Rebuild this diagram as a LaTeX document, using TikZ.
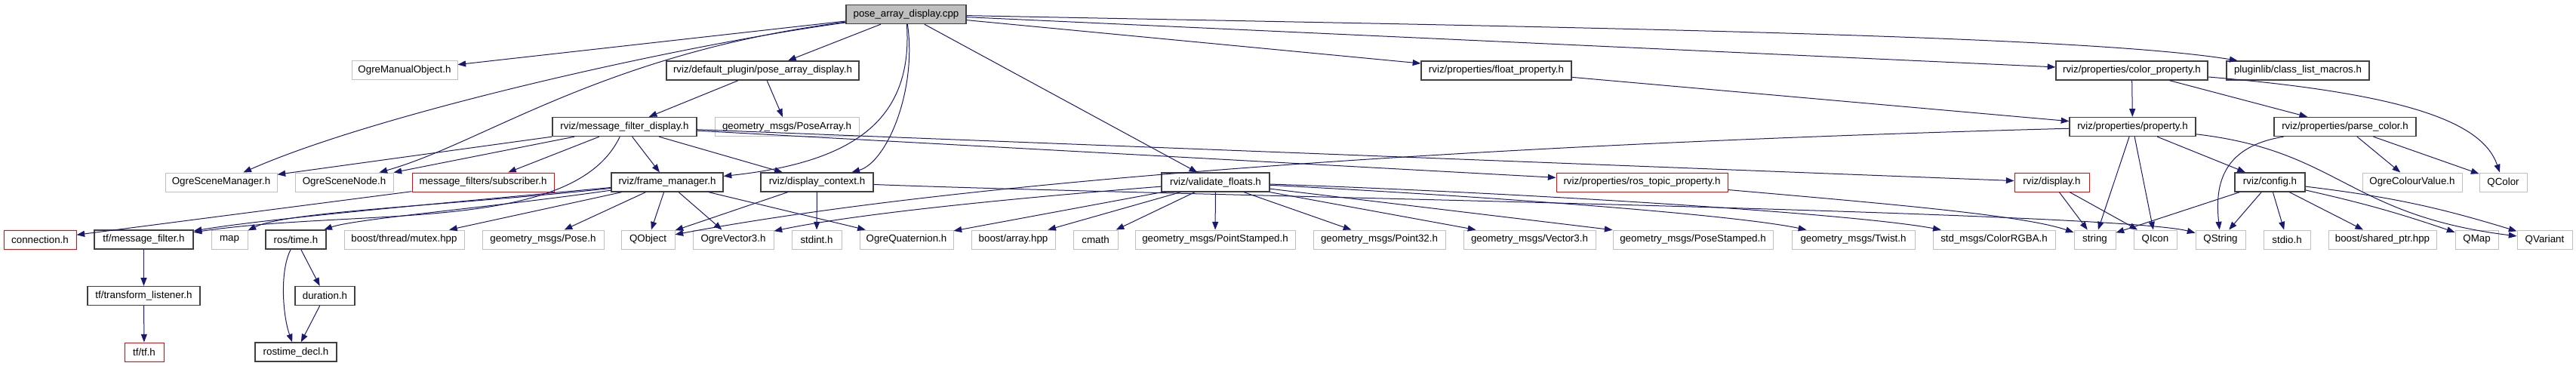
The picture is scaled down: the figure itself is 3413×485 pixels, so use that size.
\documentclass[tikz,border=0pt]{standalone}
\usepackage{fontspec}
\setmainfont{Liberation Sans}
\usetikzlibrary{arrows.meta}
\definecolor{edgec}{HTML}{191970}
\definecolor{grayb}{HTML}{BFBFBF}
\definecolor{redb}{HTML}{FF0000}
\definecolor{rootf}{HTML}{BFBFBF}
\definecolor{darkb}{HTML}{404040}
\tikzset{
  box/.style={rectangle, inner sep=0pt, minimum height=18.75pt, font=\fontsize{10}{12}\selectfont, line width=0.75pt, fill=white},
  intern/.style={box, draw=darkb, line width=1pt},
  extern/.style={box, draw=grayb},
  trunc/.style={box, draw=redb},
  root/.style={box, draw=darkb, fill=rootf, line width=1pt},
  dep/.style={draw=edgec, line width=0.75pt, -{Triangle[length=8pt,width=6pt]}}
}
\newcommand\mknode[6]{\node[#5, minimum width={(#3-#2)*0.75pt}] (#1) at ({(#2+#3)/2},#4) {#6};}
\begin{document}
\begin{tikzpicture}[x=0.75pt,y=-0.75pt]
\useasboundingbox (0,0) rectangle (3413,485);
% row 1
\mknode{cpp}{1121}{1280}{19}{root}{pose\_array\_display.cpp}
% row 2
\mknode{ogremo}{466}{606}{93.5}{extern}{OgreManualObject.h}
\mknode{padh}{883}{1138}{93.5}{intern}{rviz/default\_plugin/pose\_array\_display.h}
\mknode{floatp}{1883}{2082}{93.5}{intern}{rviz/properties/float\_property.h}
\mknode{colorp}{2724}{2925}{93.5}{intern}{rviz/properties/color\_property.h}
\mknode{plugin}{2950}{3139}{93.5}{intern}{pluginlib/class\_list\_macros.h}
% row 3
\mknode{mfd}{732}{923}{168}{intern}{rviz/message\_filter\_display.h}
\mknode{posearr}{947}{1138}{168}{extern}{geometry\_msgs/PoseArray.h}
\mknode{prop}{2742}{2909}{168}{intern}{rviz/properties/property.h}
\mknode{parsec}{3013}{3201}{168}{intern}{rviz/properties/parse\_color.h}
% row 4
\mknode{osm}{219}{367}{241.5}{extern}{OgreSceneManager.h}
\mknode{osn}{391}{521}{241.5}{extern}{OgreSceneNode.h}
\mknode{mfsub}{546}{734}{241.5}{trunc}{message\_filters/subscriber.h}
\mknode{fm}{810}{958}{241.5}{intern}{rviz/frame\_manager.h}
\mknode{dc}{1008}{1157}{241.5}{intern}{rviz/display\_context.h}
\mknode{vf}{1539}{1682}{241.5}{intern}{rviz/validate\_floats.h}
\mknode{rtp}{2062}{2289}{241.5}{trunc}{rviz/properties/ros\_topic\_property.h}
\mknode{disp}{2669}{2768}{241.5}{trunc}{rviz/display.h}
\mknode{config}{2961}{3054}{241.5}{intern}{rviz/config.h}
\mknode{ocv}{3130}{3262}{241.5}{extern}{OgreColourValue.h}
\mknode{qcolor}{3285}{3348}{241.5}{extern}{QColor}
% row 5
\mknode{conn}{5}{101}{317.5}{trunc}{connection.h}
\mknode{tfmf}{125}{256}{317.5}{intern}{tf/message\_filter.h}
\mknode{map}{280}{328}{317.5}{extern}{map}
\mknode{rostime}{352}{432}{317.5}{intern}{ros/time.h}
\mknode{mutex}{456}{615}{317.5}{extern}{boost/thread/mutex.hpp}
\mknode{pose}{639}{800}{317.5}{extern}{geometry\_msgs/Pose.h}
\mknode{qobject}{823}{894}{317.5}{extern}{QObject}
\mknode{ov3}{918}{1025}{317.5}{extern}{OgreVector3.h}
\mknode{stdint}{1049}{1115}{317.5}{extern}{stdint.h}
\mknode{oquat}{1139}{1263}{317.5}{extern}{OgreQuaternion.h}
\mknode{barray}{1287}{1398}{317.5}{extern}{boost/array.hpp}
\mknode{cmath}{1422}{1481}{317.5}{extern}{cmath}
\mknode{pstamped}{1504}{1716}{317.5}{extern}{geometry\_msgs/PointStamped.h}
\mknode{p32}{1740}{1915}{317.5}{extern}{geometry\_msgs/Point32.h}
\mknode{v3}{1939}{2114}{317.5}{extern}{geometry\_msgs/Vector3.h}
\mknode{posest}{2137}{2349}{317.5}{extern}{geometry\_msgs/PoseStamped.h}
\mknode{twist}{2374}{2537}{317.5}{extern}{geometry\_msgs/Twist.h}
\mknode{rgba}{2561}{2723}{317.5}{extern}{std\_msgs/ColorRGBA.h}
\mknode{string}{2748}{2803}{317.5}{extern}{string}
\mknode{qicon}{2827}{2884}{317.5}{extern}{QIcon}
\mknode{qstring}{2909}{2975}{317.5}{extern}{QString}
\mknode{stdio}{2999}{3061}{317.5}{extern}{stdio.h}
\mknode{bshared}{3085}{3228}{317.5}{extern}{boost/shared\_ptr.hpp}
\mknode{qmap}{3253}{3310}{317.5}{extern}{QMap}
\mknode{qvariant}{3335}{3408}{317.5}{extern}{QVariant}
% row 6
\mknode{tftl}{116}{265}{392}{intern}{tf/transform\_listener.h}
\mknode{duration}{391}{470}{392}{intern}{duration.h}
% row 7
\mknode{tftf}{165}{217}{466.5}{trunc}{tf/tf.h}
\mknode{rtdecl}{338}{446}{466.5}{intern}{rostime\_decl.h}

% edges from pose_array_display.cpp
\draw[dep] (cpp) -- (ogremo);
\draw[dep] (cpp) .. controls (900,60) and (500,150) .. (osm);
\draw[dep] (cpp) .. controls (800,70) and (640,190) .. (osn);
\draw[dep] (cpp) -- (padh);
\draw[dep] (cpp) .. controls (1210,160) and (1130,215) .. (fm);
\draw[dep] (cpp) .. controls (1215,120) and (1175,215) .. (dc);
\draw[dep] (cpp) -- (vf);
\draw[dep] (cpp) -- (floatp);
\draw[dep] (cpp) -- (colorp);
\draw[dep] (cpp) .. controls (2000,35) and (2750,45) .. (plugin);
% pose_array_display.h
\draw[dep] (padh) -- (mfd);
\draw[dep] (padh) -- (posearr);
% message_filter_display.h
\draw[dep] (mfd) -- (osm);
\draw[dep] (mfd) -- (osn);
\draw[dep] (mfd) -- (mfsub);
\draw[dep] (mfd) -- (fm);
\draw[dep] (mfd) -- (dc);
\draw[dep] (mfd) .. controls (760,310) and (480,275) .. (tfmf);
\draw[dep] (mfd) -- (rtp);
\draw[dep] (mfd) -- (disp);
% frame_manager.h
\draw[dep] (fm) .. controls (600,268) and (350,290) .. (tfmf);
\draw[dep] (fm) .. controls (600,272) and (380,280) .. (map);
\draw[dep] (fm) .. controls (650,275) and (470,290) .. (rostime);
\draw[dep] (fm) -- (mutex);
\draw[dep] (fm) -- (pose);
\draw[dep] (fm) -- (qobject);
\draw[dep] (fm) -- (ov3);
\draw[dep] (fm) -- (oquat);
% display_context.h
\draw[dep] (dc) -- (qobject);
\draw[dep] (dc) -- (stdint);
\draw[dep] (dc) .. controls (1500,258) and (2800,280) .. (qstring);
% validate_floats.h
\draw[dep] (vf) .. controls (1400,258) and (1150,280) .. (ov3);
\draw[dep] (vf) -- (oquat);
\draw[dep] (vf) -- (barray);
\draw[dep] (vf) -- (cmath);
\draw[dep] (vf) -- (pstamped);
\draw[dep] (vf) -- (p32);
\draw[dep] (vf) -- (v3);
\draw[dep] (vf) -- (posest);
\draw[dep] (vf) .. controls (2000,262) and (2300,285) .. (twist);
\draw[dep] (vf) .. controls (2000,255) and (2450,282) .. (rgba);
% float_property.h
\draw[dep] (floatp) -- (prop);
% color_property.h
\draw[dep] (colorp) -- (prop);
\draw[dep] (colorp) -- (parsec);
\draw[dep] (colorp) .. controls (3200,125) and (3290,165) .. (qcolor);
% property.h
\draw[dep] (prop) .. controls (2000,190) and (1300,235) .. (qobject);
\draw[dep] (prop) -- (string);
\draw[dep] (prop) -- (qicon);
\draw[dep] (prop) -- (config);
\draw[dep] (prop) .. controls (3100,200) and (3110,285) .. (qvariant);
% parse_color.h
\draw[dep] (parsec) .. controls (2940,195) and (2935,250) .. (qstring);
\draw[dep] (parsec) -- (ocv);
\draw[dep] (parsec) -- (qcolor);
% config.h
\draw[dep] (config) -- (string);
\draw[dep] (config) -- (qstring);
\draw[dep] (config) -- (stdio);
\draw[dep] (config) -- (bshared);
\draw[dep] (config) to[bend left=3] (qmap);
\draw[dep] (config) to[bend left=5] (qvariant);
% display.h
\draw[dep] (disp) -- (string);
\draw[dep] (disp) -- (qicon);
% ros_topic_property.h
\draw[dep] (rtp) .. controls (2500,270) and (2680,285) .. (string);
% others
\draw[dep] (mfsub) -- (conn);
\draw[dep] (tfmf) -- (tftl);
\draw[dep] (tftl) -- (tftf);
\draw[dep] (rostime) -- (duration);
\draw[dep] (rostime) .. controls (370,360) and (375,420) .. (rtdecl);
\draw[dep] (duration) -- (rtdecl);
\end{tikzpicture}
\end{document}
